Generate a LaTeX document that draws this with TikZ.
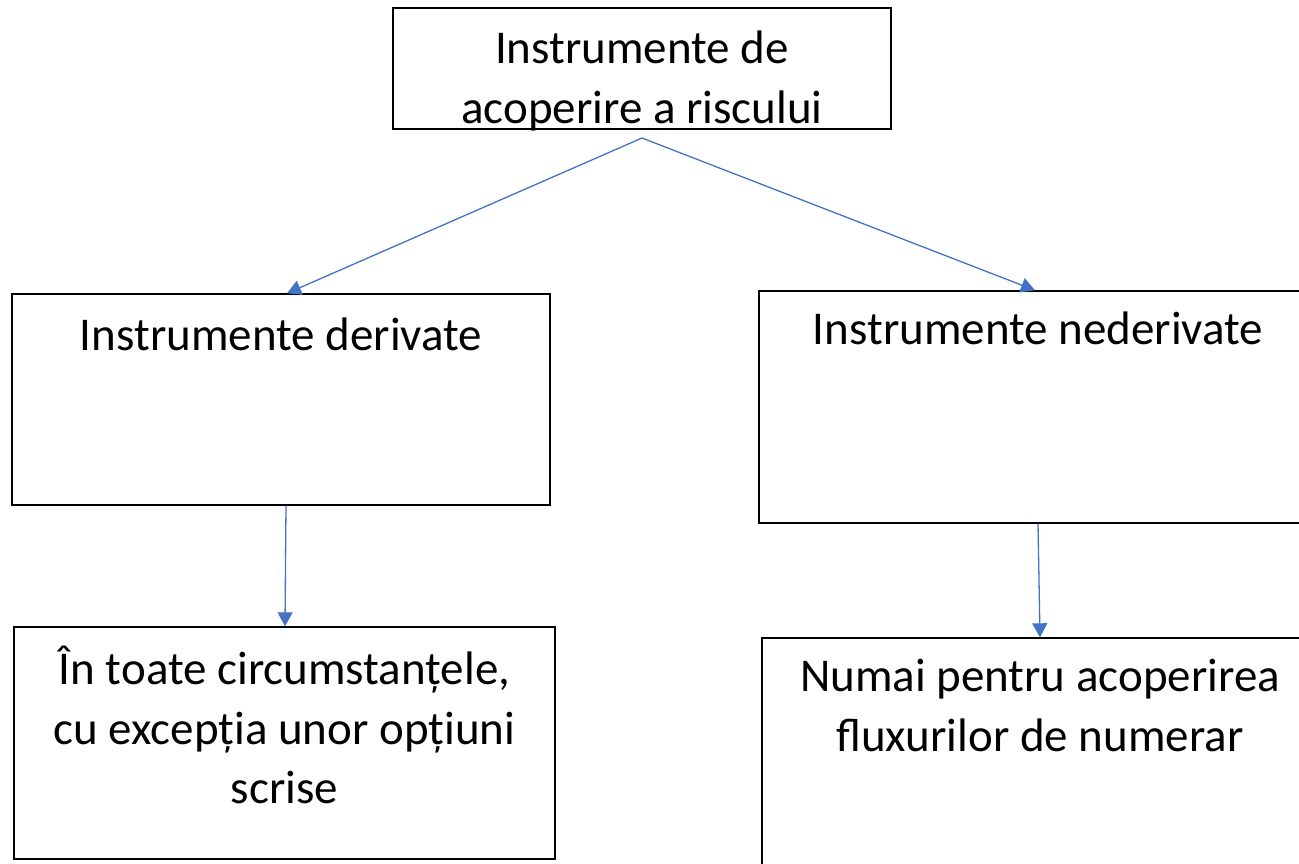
\documentclass[tikz,border=0pt]{standalone}
\usepackage{fontspec}
\setmainfont{Carlito}
\usetikzlibrary{arrows.meta}
\definecolor{arrowblue}{HTML}{4472C4}
\tikzset{
  box/.style={draw=black, line width=1.4pt, inner sep=0pt, rectangle},
  lbl/.style={inner sep=0pt, align=center, anchor=north, font=\fontsize{47}{59.5}\selectfont},
  conn/.style={draw=arrowblue, line width=1.3pt, -{Triangle[width=15pt,length=14pt]}}
}
\begin{document}
\begin{tikzpicture}[x=1pt,y=-1pt]
\useasboundingbox (0,0) rectangle (1299,863);
\clip (0,0) rectangle (1299,863);
% boxes
\node[box, minimum width=498pt, minimum height=121pt] (top) at (642,68.5) {};
\node[box, minimum width=538pt, minimum height=211pt] (dl) at (281,399.5) {};
\node[box, minimum width=558pt, minimum height=232pt] (dr) at (1038,407) {};
\node[box, minimum width=541pt, minimum height=232pt] (bl) at (284.5,743) {};
\node[box, minimum width=556pt, minimum height=250pt] (br) at (1040,763) {};
% texts
\node[lbl] (ttop) at (642,31) {Instrumente de\\acoperire a riscului};
\node[lbl] (tdl) at (281,318) {Instrumente derivate};
\node[lbl] (tdr) at (1038,312) {Instrumente nederivate};
\node[lbl] (tbl) at (284.5,646) {În toate circumstanțele,\\cu excepția unor opțiuni\\scrise};
\node[lbl] (tbr) at (1040,659) {Numai pentru acoperirea\\fluxurilor de numerar};
% connectors
\coordinate (split) at (642,138);
\draw[conn] (split) -- (dl.north -| 287,0);
\draw[conn] (split) -- (dr.north -| 1035,0);
\draw[conn] (dl.south -| 286,0) -- (bl.north -| 285,0);
\draw[conn] (dr.south -| 1038,0) -- (br.north -| 1040,0);
\end{tikzpicture}
\end{document}
